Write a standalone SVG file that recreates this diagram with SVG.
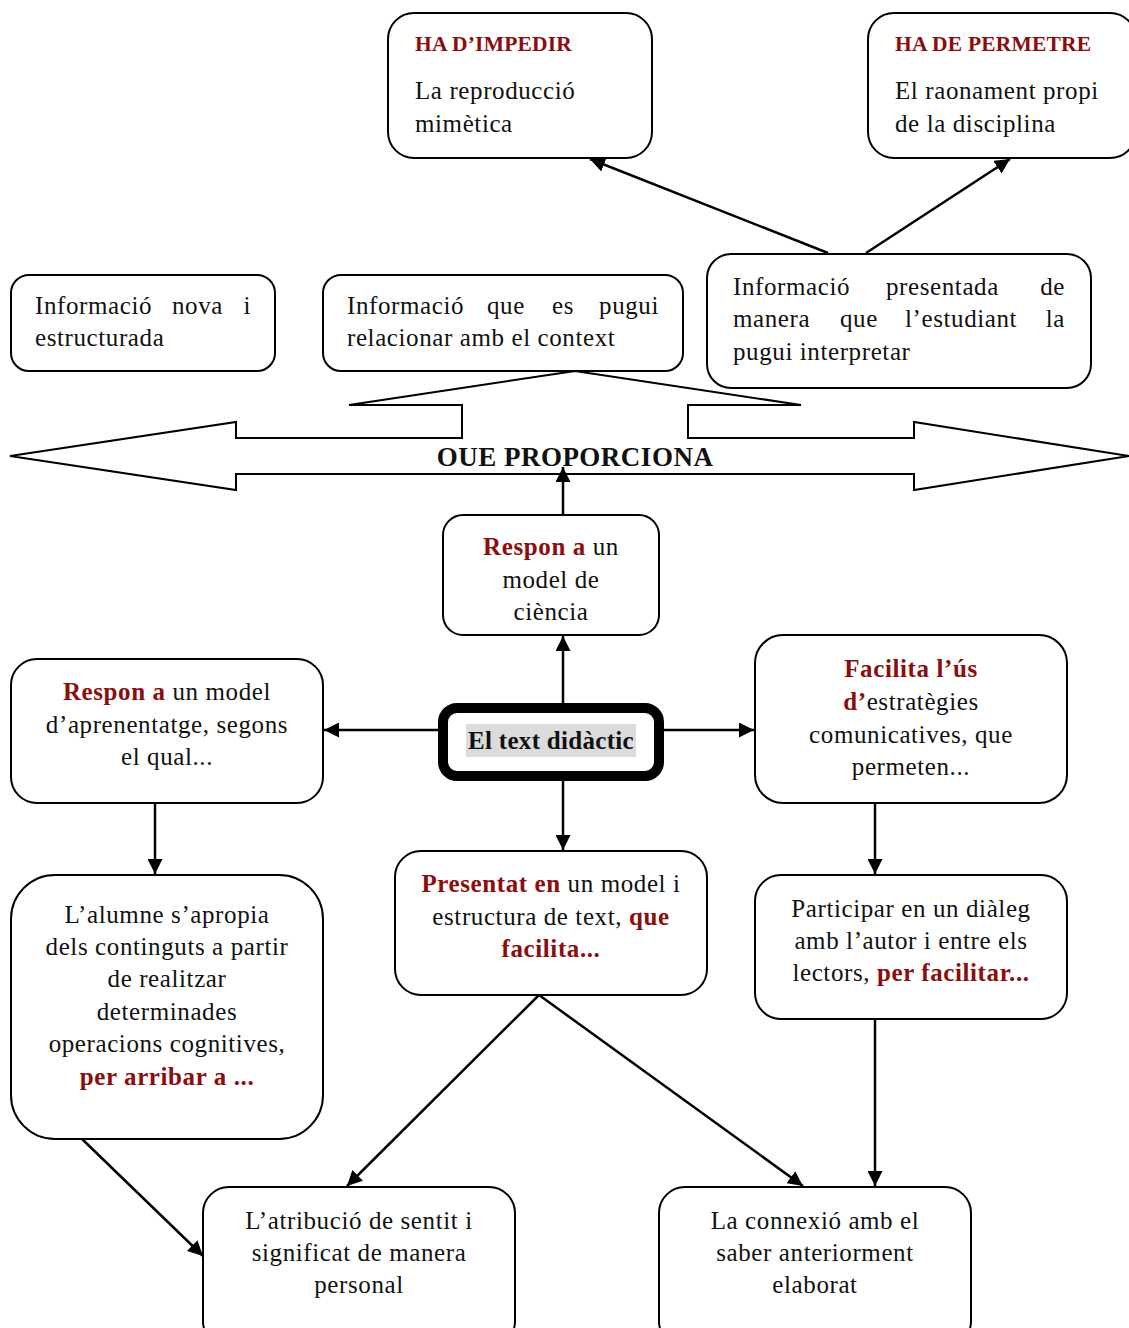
<svg xmlns="http://www.w3.org/2000/svg" width="1129" height="1328" viewBox="0 0 1129 1328">
<defs>
<style>
.box{fill:#fff;stroke:#000;stroke-width:2}
.t{font-family:"Liberation Serif","Times New Roman",serif;font-size:25px;letter-spacing:0.6px;fill:#111}
.c{text-anchor:middle}
.e{text-anchor:end}
.r{fill:#8b0d0d;font-weight:bold}
.b{font-weight:bold}
.h{font-size:21.5px;letter-spacing:0.2px}
.ln{stroke:#000;stroke-width:2.5;fill:none;marker-end:url(#ah)}
</style>
<marker id="ah" viewBox="0 0 10 10" refX="10" refY="5" markerWidth="6" markerHeight="6" orient="auto" markerUnits="strokeWidth">
<path d="M0,0 L10,5 L0,10 z" fill="#000"/>
</marker>
</defs>
<rect width="1129" height="1328" fill="#fff"/>

<g id="big-arrow">
<path d="M10,456 L236,422 L236,438 L462,438 L462,405 L349,405 L575,371 L801,405 L688,405 L688,438 L914,438 L914,422 L1129,456 L914,490 L914,474 L236,474 L236,490 Z" fill="#fff" stroke="#000" stroke-width="2"/>
<text class="t b c" x="575" y="466" style="font-size:27px;letter-spacing:0.5px">OUE PROPORCIONA</text>
</g>

<g id="connectors">
<line class="ln" x1="828" y1="253" x2="590" y2="159"/>
<line class="ln" x1="866" y1="253" x2="1010" y2="159"/>
<line class="ln" x1="563" y1="515" x2="563" y2="467"/>
<line class="ln" x1="563" y1="705" x2="563" y2="636"/>
<line class="ln" x1="440" y1="730" x2="324" y2="730"/>
<line class="ln" x1="662" y1="730" x2="754" y2="730"/>
<line class="ln" x1="563" y1="779" x2="563" y2="850"/>
<line class="ln" x1="155" y1="803" x2="155" y2="874"/>
<line class="ln" x1="875" y1="803" x2="875" y2="874"/>
<line class="ln" x1="539" y1="995" x2="347" y2="1186"/>
<line class="ln" x1="539" y1="995" x2="803" y2="1186"/>
<line class="ln" x1="875" y1="1019" x2="875" y2="1186"/>
<line class="ln" x1="82" y1="1139" x2="203" y2="1256"/>
</g>

<g id="n-impedir">
<rect class="box" x="388" y="13" width="264" height="145" rx="26"/>
<text class="t r h" x="415" y="51">HA D’IMPEDIR</text>
<text class="t" x="415" y="99">La reproducció</text>
<text class="t" x="415" y="132">mimètica</text>
</g>

<g id="n-permetre">
<rect class="box" x="868" y="13" width="268" height="145" rx="26"/>
<text class="t r h" x="895" y="51">HA DE PERMETRE</text>
<text class="t" x="895" y="99">El raonament propi</text>
<text class="t" x="895" y="132">de la disciplina</text>
</g>

<g id="n-nova">
<rect class="box" x="11" y="275" width="264" height="96" rx="18"/>
<text class="t" x="35" y="314">Informació</text>
<text class="t" x="172" y="314">nova</text>
<text class="t e" x="251" y="314">i</text>
<text class="t" x="35" y="346">estructurada</text>
</g>

<g id="n-relacionar">
<rect class="box" x="323" y="275" width="360" height="96" rx="18"/>
<text class="t" x="347" y="314">Informació</text>
<text class="t" x="487" y="314">que</text>
<text class="t" x="552" y="314">es</text>
<text class="t e" x="659" y="314">pugui</text>
<text class="t" x="347" y="346">relacionar amb el context</text>
</g>

<g id="n-interpretar">
<rect class="box" x="707" y="254" width="384" height="134" rx="24"/>
<text class="t" x="733" y="295">Informació</text>
<text class="t" x="886" y="295">presentada</text>
<text class="t e" x="1065" y="295">de</text>
<text class="t" x="733" y="327">manera</text>
<text class="t" x="840" y="327">que</text>
<text class="t" x="905" y="327">l’estudiant</text>
<text class="t e" x="1065" y="327">la</text>
<text class="t" x="733" y="360">pugui interpretar</text>
</g>

<g id="n-ciencia">
<rect class="box" x="443" y="515" width="216" height="120" rx="20"/>
<text class="t c" x="551" y="555"><tspan class="r">Respon a</tspan> un</text>
<text class="t c" x="551" y="588">model de</text>
<text class="t c" x="551" y="620">ciència</text>
</g>

<g id="n-aprenentatge">
<rect class="box" x="11" y="659" width="312" height="144" rx="26"/>
<text class="t c" x="167" y="700"><tspan class="r">Respon a</tspan> un model</text>
<text class="t c" x="167" y="733">d’aprenentatge, segons</text>
<text class="t c" x="167" y="765">el qual...</text>
</g>

<g id="n-text-didactic">
<rect x="443" y="708" width="216" height="68" rx="14" fill="#fff" stroke="#000" stroke-width="10"/>
<rect x="466" y="724" width="170" height="33" fill="#dcdcdc"/>
<text class="t b c" x="551" y="749" style="letter-spacing:0.3px">El text didàctic</text>
</g>

<g id="n-facilita">
<rect class="box" x="755" y="635" width="312" height="168" rx="28"/>
<text class="t c r" x="911" y="677">Facilita l’ús</text>
<text class="t c" x="911" y="710"><tspan class="r">d’</tspan>estratègies</text>
<text class="t c" x="911" y="743">comunicatives, que</text>
<text class="t c" x="911" y="775">permeten...</text>
</g>

<g id="n-alumne">
<rect class="box" x="11" y="875" width="312" height="264" rx="44"/>
<text class="t c" x="167" y="923">L’alumne s’apropia</text>
<text class="t c" x="167" y="955">dels continguts a partir</text>
<text class="t c" x="167" y="987">de realitzar</text>
<text class="t c" x="167" y="1020">determinades</text>
<text class="t c" x="167" y="1052">operacions cognitives,</text>
<text class="t c r" x="167" y="1085">per arribar a ...</text>
</g>

<g id="n-presentat">
<rect class="box" x="395" y="851" width="312" height="144" rx="26"/>
<text class="t c" x="551" y="892"><tspan class="r">Presentat en</tspan> un model i</text>
<text class="t c" x="551" y="925">estructura de text, <tspan class="r">que</tspan></text>
<text class="t c r" x="551" y="957">facilita...</text>
</g>

<g id="n-participar">
<rect class="box" x="755" y="875" width="312" height="144" rx="26"/>
<text class="t c" x="911" y="917">Participar en un diàleg</text>
<text class="t c" x="911" y="949">amb l’autor i entre els</text>
<text class="t c" x="911" y="981">lectors, <tspan class="r">per facilitar...</tspan></text>
</g>

<g id="n-atribucio">
<rect class="box" x="203" y="1187" width="312" height="160" rx="26"/>
<text class="t c" x="359" y="1229">L’atribució de sentit i</text>
<text class="t c" x="359" y="1261">significat de manera</text>
<text class="t c" x="359" y="1293">personal</text>
</g>

<g id="n-connexio">
<rect class="box" x="659" y="1187" width="312" height="160" rx="26"/>
<text class="t c" x="815" y="1229">La connexió amb el</text>
<text class="t c" x="815" y="1261">saber anteriorment</text>
<text class="t c" x="815" y="1293">elaborat</text>
</g>
</svg>
